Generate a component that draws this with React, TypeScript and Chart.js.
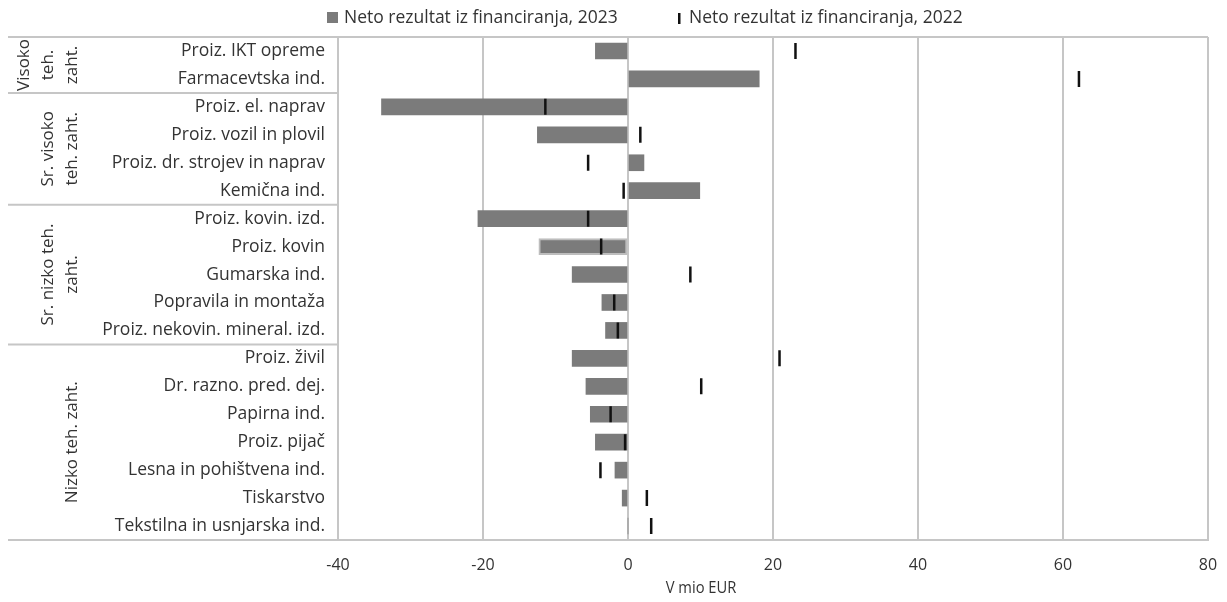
import { useEffect, useRef } from "react";
import { Chart, registerables } from "chart.js";

Chart.register(...registerables);

// Manufacturing activities, top to bottom
const categories = [
  "Proiz. IKT opreme",
  "Farmacevtska ind.",
  "Proiz. el. naprav",
  "Proiz. vozil in plovil",
  "Proiz. dr. strojev in naprav",
  "Kemična ind.",
  "Proiz. kovin. izd.",
  "Proiz. kovin",
  "Gumarska ind.",
  "Popravila in montaža",
  "Proiz. nekovin. mineral. izd.",
  "Proiz. živil",
  "Dr. razno. pred. dej.",
  "Papirna ind.",
  "Proiz. pijač",
  "Lesna in pohištvena ind.",
  "Tiskarstvo",
  "Tekstilna in usnjarska ind.",
];

// Net financing result, EUR million
const values2023 = [-4.5, 18.1, -34.0, -12.5, 2.2, 9.9, -20.7, -12.3, -7.7, -3.6, -3.1, -7.7, -5.8, -5.2, -4.5, -1.8, -0.8, 0];
const values2022 = [23.1, 62.2, -11.4, 1.7, -5.5, -0.6, -5.5, -3.7, 8.6, -1.9, -1.4, 20.9, 10.1, -2.4, -0.4, -3.8, 2.6, 3.2];

// Technology-intensity groups (number of rows each, label lines)
const groupSizes = [2, 4, 5, 7];
const groupLabels = [
  ["Visoko", "teh.", "zaht."],
  ["Sr. visoko", "teh. zaht."],
  ["Sr. nizko teh.", "zaht."],
  ["Nizko teh. zaht."],
];

const xTicks = [-40, -20, 0, 20, 40, 60, 80];

const legend2023 = "Neto rezultat iz financiranja, 2023";
const legend2022 = "Neto rezultat iz financiranja, 2022";
const axisTitle = "V mio EUR";

const BAR = "#7b7b7b";
const GRID = "#c6c6c6";
const TEXT = "#333333";
const FONT = "'Open Sans', 'Noto Sans', sans-serif";

// draws text squeezed horizontally, as a condensed face
function narrowText(ctx: any, txt: string, x: number, y: number, sx: number) {
  ctx.save();
  ctx.translate(x, y);
  ctx.scale(sx, 1);
  ctx.fillText(txt, 0, 0);
  ctx.restore();
}

const frame = {
  id: "frame",
  afterDraw(chart: any) {
    const { ctx, chartArea } = chart;
    const { top, bottom, left, right } = chartArea;
    const rowH = (bottom - top) / categories.length;
    ctx.save();
    ctx.strokeStyle = GRID;
    ctx.lineWidth = 2;
    // top frame line
    ctx.beginPath();
    ctx.moveTo(0, top);
    ctx.lineTo(right, top);
    ctx.stroke();
    // bottom line under category labels
    ctx.beginPath();
    ctx.moveTo(0, bottom);
    ctx.lineTo(left, bottom);
    ctx.stroke();
    // group separators and group labels
    let start = 0;
    groupSizes.forEach((n, gi) => {
      const y0 = top + start * rowH;
      const y1 = top + (start + n) * rowH;
      if (start > 0) {
        ctx.beginPath();
        ctx.moveTo(0, y0);
        ctx.lineTo(left, y0);
        ctx.stroke();
      }
      const lines = groupLabels[gi];
      const cy = (y0 + y1) / 2;
      ctx.fillStyle = TEXT;
      ctx.font = `17px ${FONT}`;
      ctx.textAlign = "center";
      ctx.textBaseline = "middle";
      lines.forEach((txt, li) => {
        const cx = 64 - (lines.length - 1 - li) * 24;
        ctx.save();
        ctx.translate(cx, cy);
        ctx.rotate(-Math.PI / 2);
        ctx.fillText(txt, 0, 0);
        ctx.restore();
      });
      start += n;
    });
    // legend
    ctx.textAlign = "left";
    ctx.textBaseline = "middle";
    ctx.font = `17.5px ${FONT}`;
    ctx.fillStyle = BAR;
    ctx.fillRect(319, 4, 11, 11);
    ctx.fillStyle = TEXT;
    ctx.fillText(legend2023, 336, 10);
    ctx.fillStyle = "#111";
    ctx.fillRect(670, 5, 2.5, 11);
    ctx.fillStyle = TEXT;
    ctx.fillText(legend2022, 681, 10);
    // x-axis title
    ctx.textAlign = "center";
    ctx.font = `16px ${FONT}`;
    narrowText(ctx, axisTitle, 693, 580, 0.92);
    ctx.restore();
  },
};

export default function App() {
  const ref = useRef<HTMLCanvasElement>(null);
  useEffect(() => {
    if (!ref.current) return;
    const chart = new Chart(ref.current, {
      type: "bar",
      data: {
        labels: categories,
        datasets: [
          {
            type: "line",
            label: legend2022,
            data: values2022,
            showLine: false,
            pointStyle: "line",
            rotation: 90,
            pointRadius: 8,
            pointHoverRadius: 8,
            borderWidth: 2.5,
            pointBorderWidth: 2.5,
            borderColor: "#111",
            backgroundColor: "#111",
            order: 0,
          } as any,
          {
            type: "bar",
            label: legend2023,
            data: values2023,
            backgroundColor: BAR,
            borderColor: categories.map((c) => (c === "Proiz. kovin" ? "#bdbdbd" : BAR)),
            borderWidth: categories.map((c) => (c === "Proiz. kovin" ? 2 : 0)),
            borderSkipped: false,
            barThickness: 16,
            order: 1,
          },
        ],
      },
      options: {
        indexAxis: "y",
        animation: false,
        responsive: true,
        maintainAspectRatio: false,
        layout: { padding: { top: 29, right: 11, left: 0, bottom: 0 } },
        plugins: { legend: { display: false }, tooltip: { enabled: false } },
        scales: {
          x: {
            type: "linear",
            min: -40,
            max: 80,
            afterBuildTicks: (s: any) => {
              s.ticks = xTicks.map((v) => ({ value: v }));
            },
            afterFit: (s: any) => {
              s.height = 54;
              s.paddingRight = 0;
              s.paddingLeft = 0;
            },
            grid: { color: GRID, lineWidth: 2, drawTicks: false },
            border: { display: true, color: GRID, width: 2 },
            ticks: { color: TEXT, font: { size: 16, family: FONT }, padding: 16 },
          },
          y: {
            type: "category",
            afterFit: (s: any) => {
              s.width = 330;
            },
            grid: { display: false, drawTicks: false },
            border: { display: true, color: GRID, width: 2 },
            ticks: { color: TEXT, font: { size: 17.5, family: FONT }, padding: 13, autoSkip: false },
          },
        },
      },
      plugins: [frame],
    });
    return () => chart.destroy();
  }, []);
  return (
    <div style={{ width: 1211, height: 586, position: "relative" }}>
      <canvas ref={ref} />
    </div>
  );
}
